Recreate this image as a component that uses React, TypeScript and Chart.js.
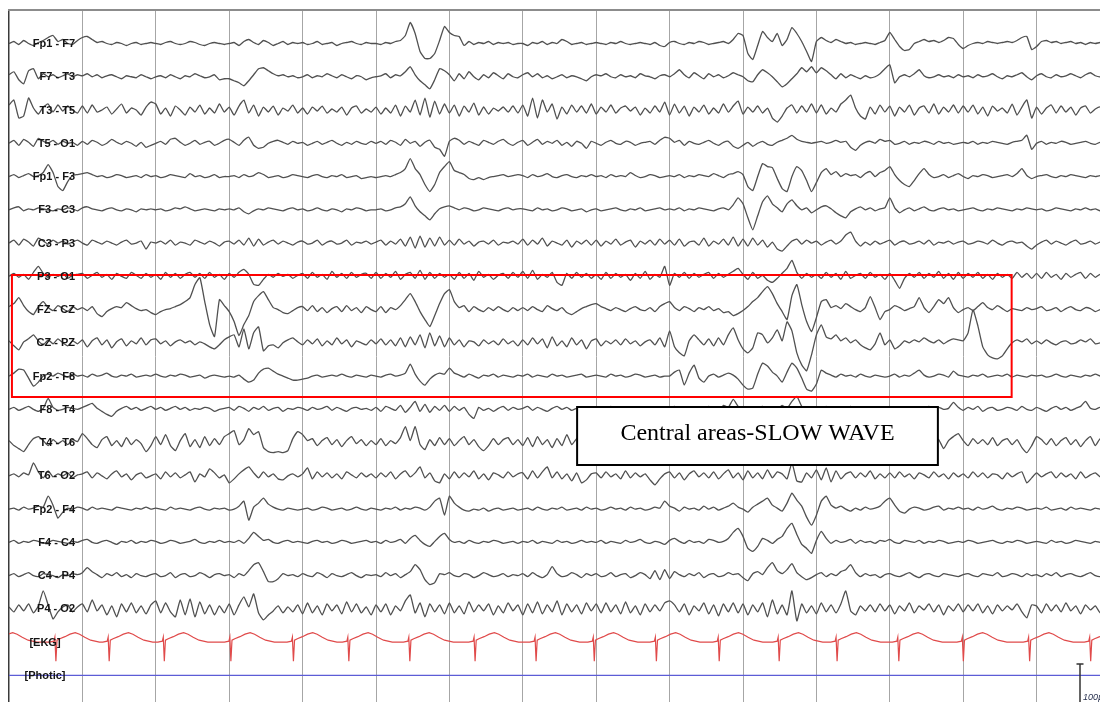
import { useEffect, useRef } from "react";
import { Chart, registerables } from "chart.js";

Chart.register(...registerables);

// ---------------- data ----------------
// EEG amplitude samples, 15 per second (1 unit ≈ 2.5 µV, positive = up)
const SAMPLE_RATE = 15;

const channelLabels = [
  "Fp1 - F7", "F7 - T3", "T3 - T5", "T5 - O1", "Fp1 - F3", "F3 - C3", "C3 - P3", "P3 - O1",
  "FZ - CZ", "CZ - PZ", "Fp2 - F8", "F8 - T4", "T4 - T6", "T6 - O2", "Fp2 - F4", "F4 - C4",
  "C4 - P4", "P4 - O2",
];

const fp1F7 = [
  0,2,-1,3,0,-2,1,3,6,8,2,4,0,-1,3,
  6,7,4,1,2,0,-1,1,0,-2,0,1,-1,0,1,
  0,-1,1,2,0,-1,0,2,1,-1,-2,0,1,0,-1,
  0,1,-2,2,4,1,-1,3,1,-2,0,2,-1,1,0,
  1,-1,0,2,-1,0,1,-2,0,1,2,0,-1,1,0,
  0,-1,1,0,2,3,8,21,10,-8,-15,-15,-10,3,17,
  11,8,7,-2,2,-1,1,0,2,-1,1,0,1,-1,0,
  0,-2,1,0,2,-1,1,0,4,2,-1,0,1,-1,0,
  1,0,-1,1,0,2,0,-1,0,1,0,-1,1,-2,-3,
  1,2,0,-1,1,0,2,1,-1,0,1,2,0,4,10,
  8,-10,-16,-2,12,6,2,10,-2,4,16,10,2,-8,-18,
  2,6,3,1,4,2,0,1,-1,0,1,0,-1,1,3,
  11,4,-3,-7,-6,0,2,4,2,3,1,3,6,5,-1,
  -5,-2,0,1,0,2,1,0,1,2,1,3,6,7,-6,
  -3,2,3,1,2,0,1,2,0,1,-1,1,0,1,0,
];
const f7T3 = [
  2,5,-3,-7,6,8,-2,3,0,2,-1,1,3,0,2,
  1,3,0,2,-1,1,2,0,-2,1,0,-1,2,0,-2,
  0,1,-1,2,0,-2,1,0,3,1,-1,0,2,-3,-2,
  -2,-4,-6,-9,-4,2,8,9,6,3,1,2,0,1,-1,
  0,2,-1,1,0,3,1,-1,2,0,-2,1,0,-3,-1,
  0,1,3,-1,2,1,5,10,2,-4,-8,-12,-3,8,6,
  2,-4,3,-2,5,0,-3,2,-1,4,1,-2,3,0,-1,
  2,4,0,3,-1,1,-2,0,2,-1,1,0,-2,-4,0,
  2,1,3,0,-1,2,0,1,-1,3,1,0,-2,1,2,
  0,3,7,2,-1,4,1,-2,3,0,2,-1,1,4,2,
  0,-4,-5,2,7,4,0,-5,-10,-7,-2,3,9,5,10,
  4,9,6,2,-2,3,-1,2,0,-2,1,-1,0,3,8,
  12,-6,0,2,0,3,7,1,-1,0,2,0,1,-1,2,
  0,1,-1,2,0,1,3,0,-2,1,0,2,4,0,-3,
  1,3,0,-1,2,0,1,3,1,-1,2,4,1,0,2,
];
const t3T5 = [
  5,10,-8,-6,12,2,-4,3,6,-2,5,-1,4,0,-3,
  4,-3,5,-2,0,3,-4,1,6,-3,2,0,-5,3,8,
  6,-4,2,-6,4,0,-5,3,-2,5,-4,2,-3,6,-2,
  3,-5,4,10,-3,5,-6,3,-2,4,-5,2,-1,5,-3,
  2,-4,3,-1,4,-3,1,-2,3,-5,2,4,-3,1,-2,
  3,-4,2,-3,5,-6,4,-2,10,-5,12,-7,9,-4,6,
  -3,5,-6,4,-2,7,-5,3,-4,2,-1,3,-2,4,-3,
  5,-6,12,-8,10,-2,6,-9,3,-4,5,-2,4,-3,6,
  -4,3,-2,5,-3,2,4,-1,3,-5,2,-3,4,-2,8,
  -5,6,-3,4,-6,3,-2,5,-4,2,-3,6,-2,4,9,
  -4,3,-2,4,-3,2,-8,-12,-6,2,5,-3,4,-2,6,
  -3,5,-4,2,-2,6,10,15,2,-6,-9,3,-4,5,-2,
  4,-6,3,-2,5,-5,2,4,-3,6,-4,3,-2,5,-3,
  4,-2,5,-4,3,-6,4,-1,2,-3,6,-5,3,10,-8,
  3,-4,2,5,-3,4,-2,3,-5,2,4,-3,1,3,-2,
];
const t5O1 = [
  0,3,-2,4,1,-3,5,2,0,3,-1,2,0,1,-2,
  2,-1,3,1,-2,0,4,1,-1,2,0,-3,1,-4,-2,
  0,2,-1,4,5,1,-2,0,3,-1,1,2,-2,0,3,
  4,1,-2,3,6,-2,-5,-4,0,2,3,1,-1,2,0,
  1,-2,0,2,-1,1,3,0,-2,1,-1,2,0,-1,2,
  0,2,-1,3,1,-2,4,0,2,-3,1,3,-4,-6,-13,
  2,5,3,-1,2,0,-2,3,1,-1,2,4,0,-2,1,
  3,-2,1,4,-1,2,0,3,-2,1,-3,2,0,-5,2,
  0,-2,1,3,0,-1,2,1,-2,0,1,2,-1,3,6,
  5,1,3,-2,2,0,-1,1,3,0,-2,1,2,-3,-5,
  -2,1,-3,0,2,-1,-2,1,3,5,8,4,2,1,0,
  1,2,0,1,3,1,2,-4,-7,-2,1,2,0,4,2,
  3,-1,0,2,-1,1,0,2,1,-1,2,0,1,-1,0,
  1,0,2,-1,1,0,2,1,0,-1,1,2,3,8,-6,
  0,2,-1,1,0,2,1,-1,0,1,2,0,-1,1,0,
];
const fp1F3 = [
  0,2,-1,1,3,0,1,4,12,4,-10,-14,-5,1,2,
  3,4,2,0,1,-1,0,2,1,-1,0,1,-1,2,0,
  1,-1,0,2,1,0,-1,3,0,1,-1,0,2,-1,0,
  0,1,-1,2,0,1,4,2,-1,0,1,-1,0,2,1,
  0,-1,1,2,0,-1,1,0,2,-1,0,1,-2,-1,0,
  -1,0,1,0,2,4,8,18,8,2,-8,-15,-8,4,10,
  15,6,4,2,-2,-3,-1,-3,-1,0,1,2,0,1,2,
  1,-1,2,0,1,3,0,-1,1,2,0,-1,1,0,2,
  0,1,-1,2,0,1,0,4,1,-1,0,2,1,-1,0,
  1,0,2,-1,1,0,2,1,0,3,1,-1,2,3,5,
  2,-10,-14,0,13,10,9,-2,-12,-15,0,10,6,-4,-15,
  -6,4,8,2,5,0,3,1,2,-1,3,5,0,4,6,
  10,2,-4,-8,-10,-4,3,8,2,-1,0,2,-1,1,3,
  0,-2,1,0,2,1,-1,0,1,2,0,3,8,1,-2,
  0,1,2,0,-1,1,0,2,1,0,-1,1,0,1,0,
];
const f3C3 = [
  0,2,3,-1,1,0,2,1,0,-1,1,0,2,1,-1,
  2,3,1,0,-1,1,2,0,-1,1,0,-2,1,0,1,
  0,1,-1,0,2,1,3,1,-1,0,1,0,-1,1,0,
  1,0,2,-2,-4,-1,1,0,2,1,0,-1,1,2,0,
  1,-1,0,2,0,-1,1,0,-2,1,0,2,1,-1,0,
  0,1,-1,0,2,3,6,13,4,-2,-6,-10,-4,1,3,
  4,2,0,2,1,-1,0,2,1,0,-1,1,2,0,1,
  1,0,-1,2,0,1,-1,0,2,1,-1,0,1,-2,0,
  1,-1,0,1,2,0,-1,1,0,2,-1,0,1,2,0,
  1,0,2,-1,1,0,2,1,0,-1,1,2,0,5,12,
  6,-8,-20,-6,8,14,6,2,-2,6,10,4,0,2,-3,
  0,3,4,1,-3,-6,-8,-2,1,3,0,2,-1,1,2,
  12,2,-3,0,2,-1,1,3,0,-1,1,2,0,1,-1,
  0,1,2,0,-1,1,0,2,1,0,-1,1,0,2,1,
  0,1,-1,0,2,1,0,-1,1,0,2,0,1,-1,0,
];
const c3P3 = [
  0,3,-2,4,1,-3,5,2,-1,3,0,2,-1,1,3,
  0,-2,3,1,-1,2,0,-2,1,3,-1,0,2,-6,1,
  0,2,-1,3,-2,1,0,-2,3,1,-1,2,0,-3,1,
  2,-1,3,-2,5,-3,4,-2,1,3,-1,2,0,-2,1,
  2,-1,0,3,-2,1,2,-1,0,3,-2,1,0,2,-1,
  1,3,-2,2,-1,4,-3,6,-5,7,-4,5,-3,6,-2,
  3,-2,4,-1,2,-3,1,2,-1,3,-2,1,0,2,-1,
  4,-2,3,-1,5,-3,2,0,-2,3,-4,2,-1,3,-2,
  3,-3,2,-1,4,-2,1,3,-4,2,-1,3,-2,4,-1,
  3,-2,4,-3,1,2,-2,5,-3,2,-1,4,-2,6,-3,
  4,-3,5,-2,3,-4,1,-6,-8,-3,2,4,-1,3,0,
  2,-2,1,3,-1,2,8,11,2,-3,1,-2,2,-1,1,
  3,-2,1,2,-1,0,2,-1,3,-2,1,0,2,-1,1,
  2,-1,0,2,1,-1,3,0,-2,1,2,0,1,-3,-6,
  -2,1,3,-1,2,0,-2,1,3,-1,0,2,-1,1,0,
];
const p3O1 = [
  0,3,-1,2,-3,4,10,3,-1,2,0,3,-2,1,2,
  3,-2,1,4,-1,2,-3,3,0,-2,4,1,-2,3,-1,
  2,-3,4,-1,3,-2,2,4,-1,3,-2,4,-1,2,-3,
  3,-1,4,7,2,-8,-9,-3,2,-1,3,0,2,-2,1,
  3,-2,4,-1,2,-3,5,-1,3,-2,4,-1,2,3,-2,
  4,-2,3,-1,5,-3,2,4,-2,6,-3,4,-2,3,-1,
  2,-3,4,-2,3,-4,5,-1,2,-3,1,3,-2,4,-1,
  5,-2,6,-3,2,-1,4,-6,-9,3,-2,4,-1,3,-2,
  2,-3,4,-2,3,-1,2,-4,3,-2,5,-3,2,-1,10,
  -9,3,-1,4,-2,3,-1,2,4,-2,3,-1,2,5,8,
  2,-3,4,-2,1,-4,-6,-2,3,8,16,4,-2,3,-1,
  2,-2,4,-1,3,-3,5,-2,1,3,-2,4,-1,2,-3,
  3,-4,-12,-2,3,-1,4,-2,3,-1,5,-2,3,-3,4,
  -2,3,-1,4,-2,2,-3,3,-1,2,-2,4,-1,3,-2,
  3,-2,4,-1,2,-3,3,-1,2,4,-2,3,-1,2,-3,
];
const fzCz = [
  3,6,12,4,-2,-5,3,8,2,-1,4,1,-2,3,0,
  2,-1,3,-4,-7,-2,1,3,2,7,4,1,-1,0,-3,
  -5,-2,0,1,3,5,8,12,25,32,8,-15,-27,10,4,
  -2,-12,-26,-15,-6,8,14,18,10,2,0,-3,-4,-1,2,
  3,-1,4,-2,2,-3,1,3,-2,4,-1,2,-3,3,0,
  -2,3,-3,2,0,4,10,16,8,-2,-10,-17,-6,6,16,
  20,8,2,4,-2,3,0,-2,2,-1,3,0,-2,2,-1,
  2,-1,3,0,-2,4,1,-1,2,-3,-5,-2,1,3,5,
  6,3,1,-1,2,0,-2,1,3,0,-1,2,-2,3,6,
  8,2,-1,3,1,-2,2,0,3,-1,1,-3,-2,-6,-4,
  -1,3,8,12,18,23,16,6,-2,-10,14,25,5,-12,-22,
  -8,8,10,2,4,1,6,3,0,-2,2,13,2,-10,-2,
  0,4,2,-1,1,3,12,2,-3,3,10,6,12,2,-3,
  0,2,-1,3,7,2,0,4,1,-2,1,0,-1,2,0,
  1,3,-1,0,2,-2,1,3,0,-1,2,1,-2,0,1,
];
const czPz = [
  2,-3,-7,1,4,8,2,-2,3,-1,4,0,-3,2,-1,
  3,-4,2,5,-2,3,-5,1,4,-3,2,-1,5,-2,3,
  4,-1,2,-3,1,3,0,2,-2,1,-1,-4,-6,-2,3,
  6,8,-4,14,-6,10,16,-8,-3,-2,-5,0,3,5,1,
  -2,3,-1,4,-3,2,-2,5,-1,3,-4,2,0,-2,3,
  -1,4,-2,3,-3,5,-4,6,-2,8,-5,10,-3,7,-4,
  5,-2,3,-4,2,1,-3,3,-1,2,-2,4,-1,2,-3,
  3,-2,5,-1,4,-5,6,-3,2,-4,5,-2,3,-6,2,
  4,-3,2,-1,3,-2,4,-1,2,-3,1,3,-2,5,-4,
  12,-4,-10,-13,2,8,3,-2,4,-3,5,-2,8,15,3,
  -6,-10,-5,10,8,0,5,13,2,21,12,-10,-22,-28,-12,
  8,18,6,4,8,2,5,0,3,-2,-5,-7,-1,10,-2,
  3,-6,-3,2,0,3,1,5,2,0,3,-1,2,4,3,
  2,10,33,17,-4,-12,-15,-16,-13,-6,0,3,1,4,-1,
  2,-1,3,0,-2,1,2,-1,0,3,1,4,-1,0,2,
];
const fp2F8 = [
  0,3,7,6,-2,-10,-6,0,2,0,3,1,-1,2,0,
  1,-1,2,0,1,3,0,-1,1,0,2,-1,0,1,0,
  2,0,-1,1,0,2,1,-1,0,1,-2,0,1,0,-1,
  0,-1,1,-3,-6,-4,3,7,8,5,2,0,-2,-4,-4,
  -3,-2,0,1,-1,0,1,0,2,0,-1,1,0,-1,1,
  0,-1,1,2,0,1,3,12,2,-5,-9,-3,1,3,2,
  8,3,1,-1,2,0,-2,1,0,2,-1,1,0,-1,1,
  0,2,-1,1,0,-1,2,0,1,-1,0,1,2,-1,0,
  1,0,-1,2,0,1,-1,0,2,1,-1,0,1,-1,0,
  0,4,6,-9,3,11,-2,-6,0,2,-1,1,3,1,-3,
  -9,-13,-12,2,13,10,4,0,-6,4,13,8,-2,-13,-15,
  -8,6,3,1,-1,2,0,1,-1,2,0,-1,1,0,-1,
  0,2,-1,1,0,3,6,1,-1,0,2,1,-1,5,1,
  0,-1,1,0,2,-1,0,1,0,2,-1,1,0,-1,1,
  0,1,-1,0,2,0,-1,1,0,-1,1,0,2,0,-1,
];
const f8T4 = [
  0,2,-1,1,3,0,-2,1,11,2,-1,0,2,1,0,
  2,4,6,1,-2,-5,-7,-2,1,3,0,2,-1,1,3,
  0,2,-1,1,3,0,2,-1,1,0,2,1,-2,0,1,
  2,-1,3,1,-2,2,0,3,-1,1,2,-2,1,0,2,
  1,-1,2,0,1,3,-1,2,0,-2,1,2,0,1,-1,
  2,-2,3,1,-1,4,-3,2,8,-2,5,-3,3,-1,4,
  -2,3,-1,2,-5,-9,2,-1,1,-2,1,3,-1,2,0,
  1,3,-1,2,0,-2,1,3,0,2,-1,1,-2,2,0,
  2,-1,1,3,0,2,-1,1,0,-2,2,1,-1,0,2,
  1,3,-1,2,0,1,2,-1,3,1,-2,4,2,10,3,
  -2,2,-3,1,3,-1,2,0,4,1,8,13,3,-2,1,
  2,-1,3,0,2,-2,1,3,-1,2,0,1,-1,2,0,
  3,-1,2,1,-2,2,0,1,3,-1,2,0,1,7,2,
  -1,2,0,3,-2,1,2,-1,0,2,1,-1,3,0,-1,
  2,0,-2,1,3,0,2,-1,1,3,8,1,0,2,-1,
];
const t4T6 = [
  2,-3,-6,-9,-2,4,6,2,-3,3,-1,2,-2,3,1,
  9,4,-2,-5,3,6,-3,2,-4,5,-2,3,-1,-9,-3,
  6,-2,8,-3,-8,2,9,-4,3,-5,6,-3,4,-2,6,
  9,12,-2,3,14,8,11,-5,-9,-10,-9,-10,-8,4,11,
  8,2,4,-3,2,5,-2,3,-4,2,6,-1,3,-3,2,
  -2,4,-3,2,-1,5,16,2,16,-2,-7,3,-3,5,-2,
  4,-3,2,6,-2,3,-4,-8,-3,4,-2,3,5,-2,3,
  -3,5,-4,6,-2,3,-5,4,-3,8,-2,4,8,-6,2,
  3,-4,5,-2,4,-3,2,-5,6,-2,3,-4,5,-1,3,
  -3,4,-2,6,-4,3,-5,2,4,-3,5,-2,3,-4,2,
  4,-3,6,-5,3,-2,8,-4,2,-6,5,-2,4,-3,2,
  -2,5,-3,4,-6,3,-2,5,-4,2,6,-3,4,-2,3,
  -3,4,-2,5,-3,2,-4,3,-2,4,3,-6,2,6,9,
  2,-3,4,-1,3,-2,5,-3,2,4,-2,3,-5,-10,-3,
  6,3,-2,4,-3,2,5,-2,3,-4,2,6,-3,4,-2,
];
const t6O2 = [
  0,2,-1,3,1,13,4,-2,5,-1,2,0,3,-2,1,
  2,4,-2,3,0,-3,2,5,-1,2,-4,1,3,-2,0,
  2,-3,4,-1,3,-2,1,4,-6,2,-1,7,3,-2,1,
  -7,-3,2,6,9,3,-2,4,-1,2,-3,-4,0,2,-1,
  2,8,-3,4,-1,3,-2,2,-3,4,1,-2,3,-1,2,
  -2,3,-1,4,-3,2,5,-1,3,9,-2,3,-5,-7,2,
  -3,4,-2,3,-1,5,-3,2,-4,3,1,-2,4,-1,2,
  3,-3,5,-2,4,9,-2,4,-3,2,-5,3,-7,-4,2,
  3,-2,4,-1,2,-3,5,-2,3,-1,2,-4,-9,-3,2,
  4,-2,3,-4,2,5,-1,3,-2,4,-3,2,6,-2,3,
  -4,5,-2,3,-3,6,-2,4,2,-3,13,-5,-6,3,-2,
  6,-4,8,-6,5,-3,2,4,-2,3,-1,5,-3,2,-2,
  3,-2,4,-1,2,-3,3,1,-2,4,-1,2,-3,3,-1,
  2,-2,4,-1,3,-2,2,1,-3,3,-1,2,4,-7,-2,
  3,-1,2,4,-2,3,-1,2,-3,4,-2,1,3,-1,2,
];
const fp2F4 = [
  0,1,-1,2,0,1,3,2,13,4,-9,-3,1,0,2,
  1,-1,2,0,1,0,-1,2,1,0,-1,1,0,2,0,
  1,0,-1,2,0,1,0,-1,1,2,0,-1,1,0,1,
  -1,0,3,8,-11,2,6,11,5,2,0,-1,1,0,-1,
  0,1,-1,0,2,1,-1,0,1,-1,0,2,0,-1,1,
  0,-1,1,0,2,-1,1,0,2,1,-1,2,8,11,-6,
  13,6,2,-1,-2,0,-1,1,-2,0,1,-1,0,1,-1,
  0,1,-1,2,0,-1,1,0,2,-1,0,1,-1,2,0,
  1,-1,0,2,0,1,-1,2,0,1,-1,0,2,1,8,
  3,1,-2,2,0,1,-1,3,0,2,-1,1,3,6,2,
  0,-3,2,5,8,11,4,1,-2,6,16,9,3,-8,-16,
  -6,8,13,4,1,3,0,-2,1,-1,2,0,1,3,8,
  11,4,-2,-4,0,2,1,-1,0,2,3,-1,1,0,2,
  0,1,-1,2,0,1,3,0,-1,1,0,2,1,-1,0,
  1,0,2,-1,0,1,-1,2,0,1,0,-1,1,0,2,
];
const f4C4 = [
  0,2,-1,1,0,2,1,-1,0,2,1,0,-1,1,0,
  2,3,0,-1,1,2,0,-2,1,0,2,-1,1,0,2,
  1,-1,0,2,1,-1,0,1,3,0,-1,1,0,2,0,
  1,0,2,-1,4,10,6,2,3,0,-1,1,2,0,1,
  0,-1,1,2,0,1,-1,0,2,1,-1,0,1,2,0,
  1,-1,2,0,1,3,-1,4,7,2,-2,-4,1,6,9,
  3,0,1,-1,2,0,-1,1,0,2,1,-1,0,1,-1,
  1,0,2,-1,1,0,-1,2,0,1,-1,0,2,0,1,
  0,2,-1,1,0,-1,2,0,1,3,0,-1,1,0,-2,
  2,4,1,-1,2,0,1,-1,3,2,0,1,4,10,14,
  6,-6,-9,-4,4,2,-1,3,6,14,19,8,-2,-6,-11,
  2,11,4,-1,2,0,1,3,-1,2,0,1,-1,2,1,
  3,0,-1,2,1,0,2,-1,1,0,2,1,-1,0,1,
  0,2,1,-1,0,1,2,0,-1,1,0,2,1,-1,0,
  1,0,-1,2,0,1,-1,0,2,1,0,-1,1,0,1,
];
const c4P4 = [
  0,2,-1,1,3,0,-1,2,1,0,-2,1,0,2,1,
  3,8,4,1,-2,2,0,3,-1,1,-2,2,0,-1,1,
  2,-1,0,3,-2,1,2,-1,0,3,1,-2,1,2,0,
  1,-2,2,0,5,11,13,4,-6,-6,-3,2,0,1,-1,
  2,0,-1,3,1,-2,2,0,-1,1,3,0,-2,1,0,
  1,-1,3,0,2,-2,1,4,11,6,-4,-9,-7,2,1,
  3,0,-1,2,1,-2,0,3,1,-1,0,2,-1,1,0,
  2,-1,3,0,-2,1,9,2,-1,0,3,1,-2,2,0,
  2,-1,0,3,-1,1,2,-2,0,3,1,-3,5,-4,6,
  -3,4,1,-1,2,0,3,-2,1,2,-1,0,3,1,2,
  -2,-5,2,4,1,8,13,5,2,6,12,3,-1,-4,-2,
  1,3,-1,2,0,4,6,11,3,-1,2,0,1,-2,1,
  2,0,-1,1,3,0,-2,1,2,0,-1,2,1,0,-1,
  1,2,0,-1,2,1,0,3,-1,0,2,1,-1,2,0,
  1,-1,2,0,3,-1,1,2,0,-1,1,3,0,-1,1,
];
const p4O2 = [
  2,-3,4,-2,5,-4,3,18,4,-10,-3,2,4,-3,2,
  5,-3,9,-2,4,-6,3,-8,5,-3,6,-4,3,-5,4,
  8,-4,6,-3,-8,9,-6,10,-8,7,-5,4,-6,3,-4,
  5,-6,4,12,2,15,-4,-11,-6,-2,3,-4,2,-3,4,
  -5,6,-4,3,-6,5,-2,4,-5,7,-3,5,-4,2,-6,
  4,-3,5,-6,3,-2,8,14,-4,6,-8,5,-3,4,-5,
  6,-4,3,-5,7,-3,4,-2,5,-6,3,-4,6,-2,4,
  -6,5,-4,7,-5,4,-3,8,-6,5,-3,4,-5,6,-2,
  5,-4,6,-3,4,-5,7,-4,3,-6,5,-3,4,-2,6,
  8,4,-3,5,-6,3,-2,6,-5,4,-7,5,-3,6,-4,
  5,-6,4,-3,6,-8,9,-5,4,-6,18,-12,5,-4,3,
  -5,6,-3,4,-4,5,18,-2,-6,3,-2,4,-3,5,-2,
  4,-5,3,-2,6,-4,3,-1,5,-3,4,-6,3,-2,5,
  -3,4,-2,5,-4,3,-5,4,-2,3,-1,5,-3,-9,4,
  3,-4,5,-2,4,-3,6,-2,3,-5,4,-1,3,-4,2,
];

const eegSeries = [
  fp1F7, f7T3, t3T5, t5O1, fp1F3, f3C3, c3P3, p3O1, fzCz, czPz,
  fp2F8, f8T4, t4T6, t6O2, fp2F4, f4C4, c4P4, p4O2,
];

// EKG: time of each QRS complex (s), and one beat's shape (offset s, amplitude)
const ekgBeatTimes = [
  -0.22, 0.632, 1.358, 2.109, 3.016, 3.868, 4.623, 5.454, 6.343, 7.174, 7.967,
  8.813, 9.669, 10.486, 11.275, 12.116, 12.995, 13.898, 14.73,
];
const ekgShapeOffsets = [-0.08, -0.02, -0.007, 0.007, 0.022, 0.06, 0.13, 0.2, 0.27, 0.33, 0.4, 0.48, 0.6];
const ekgShapeValues = [0, 1, 5, -19, 2, 3.5, 5.5, 8, 9.5, 8, 5, 2, 0];

const photicTimes = [0, 15];
const photicValues = [0, 0];

const auxLabels = ["[EKG]", "[Photic]"];
const annotationText = "Central areas-SLOW WAVE";
const scaleBarText = "100µV";

// ---------------- layout ----------------
const W = 1100;
const H = 702;
const PLOT_LEFT = 9;
const PLOT_TOP = 10;
const PX_PER_SECOND = 73.4;
const ROW0 = 43.5;
const ROW_STEP = 33.26;
const X_MAX = (W - PLOT_LEFT) / PX_PER_SECOND;
const rowY = (i: number) => ROW0 + ROW_STEP * i;

const overlayPlugin = {
  id: "eegOverlay",
  afterDatasetsDraw(chart: any) {
    const { ctx } = chart;
    const xs = chart.scales.x;
    const ys = chart.scales.y;
    ctx.save();

    // red highlight box
    const rx1 = xs.getPixelForValue(0.04);
    const rx2 = xs.getPixelForValue(13.66);
    const ry1 = ys.getPixelForValue(275);
    const ry2 = ys.getPixelForValue(397);
    ctx.strokeStyle = "#ff0000";
    ctx.lineWidth = 2;
    ctx.strokeRect(rx1, ry1, rx2 - rx1, ry2 - ry1);

    // annotation box
    const ax1 = xs.getPixelForValue(7.74);
    const ax2 = xs.getPixelForValue(12.655);
    const ay1 = ys.getPixelForValue(407);
    const ay2 = ys.getPixelForValue(465);
    ctx.fillStyle = "#ffffff";
    ctx.fillRect(ax1, ay1, ax2 - ax1, ay2 - ay1);
    ctx.strokeStyle = "#000000";
    ctx.lineWidth = 2;
    ctx.strokeRect(ax1, ay1, ax2 - ax1, ay2 - ay1);
    ctx.fillStyle = "#000000";
    ctx.font = '24px "Liberation Serif", "Times New Roman", serif';
    ctx.textAlign = "center";
    ctx.textBaseline = "alphabetic";
    ctx.fillText(annotationText, (ax1 + ax2) / 2, 440);

    // channel labels
    ctx.fillStyle = "#151515";
    ctx.font = 'bold 11px "Liberation Sans", Arial, sans-serif';
    ctx.textBaseline = "middle";
    ctx.textAlign = "right";
    channelLabels.forEach((label, i) => {
      ctx.fillText(label, 75, ys.getPixelForValue(rowY(i)) + 0.5);
    });
    ctx.textAlign = "center";
    auxLabels.forEach((label, k) => {
      ctx.fillText(label, 45, ys.getPixelForValue(rowY(eegSeries.length + k)) + 0.5);
    });

    // scale bar
    ctx.strokeStyle = "#333333";
    ctx.lineWidth = 1.5;
    ctx.beginPath();
    ctx.moveTo(1080, 664);
    ctx.lineTo(1080, 702);
    ctx.moveTo(1076.5, 664);
    ctx.lineTo(1083.5, 664);
    ctx.stroke();
    ctx.fillStyle = "#2a3350";
    ctx.font = 'italic 9px "Liberation Sans", Arial, sans-serif';
    ctx.textAlign = "left";
    ctx.textBaseline = "alphabetic";
    ctx.fillText(scaleBarText, 1083, 700);

    ctx.restore();
  },
};

export default function App() {
  const canvasRef = useRef<HTMLCanvasElement | null>(null);

  useEffect(() => {
    if (!canvasRef.current) return;

    const eegDatasets = eegSeries.map((values, c) => ({
      label: channelLabels[c],
      data: values.map((v, i) => ({ x: i / SAMPLE_RATE, y: rowY(c) - v })),
      borderColor: "#505050",
      borderWidth: 1.3,
      tension: 0.15,
      pointRadius: 0,
      fill: false,
    }));

    const ekgRow = rowY(eegSeries.length);
    const ekgPoints: { x: number; y: number }[] = [];
    ekgBeatTimes.forEach((t) => {
      ekgShapeOffsets.forEach((o, k) => {
        ekgPoints.push({ x: t + o, y: ekgRow - ekgShapeValues[k] });
      });
    });

    const photicRow = rowY(eegSeries.length + 1);

    const chart = new Chart(canvasRef.current, {
      type: "line",
      data: {
        datasets: [
          ...eegDatasets,
          {
            label: "EKG",
            data: ekgPoints,
            borderColor: "#e04a4a",
            borderWidth: 1.2,
            tension: 0,
            pointRadius: 0,
            fill: false,
          },
          {
            label: "Photic",
            data: photicTimes.map((t, i) => ({ x: t, y: photicRow - photicValues[i] })),
            borderColor: "#5c5cd6",
            borderWidth: 1.2,
            tension: 0,
            pointRadius: 0,
            fill: false,
          },
        ] as any,
      },
      options: {
        animation: false,
        responsive: false,
        devicePixelRatio: 1,
        events: [],
        layout: { padding: { left: PLOT_LEFT, top: PLOT_TOP, right: 0, bottom: 0 } },
        plugins: { legend: { display: false }, tooltip: { enabled: false } },
        scales: {
          x: {
            type: "linear",
            position: "top",
            min: 0,
            max: X_MAX,
            ticks: { display: false, stepSize: 1, includeBounds: false },
            grid: {
              drawTicks: false,
              color: (c: any) => (c.tick && c.tick.value === 0 ? "#3a3a3a" : "#a6a6a6"),
              lineWidth: (c: any) => (c.tick && c.tick.value === 0 ? 1.5 : 1),
            },
            border: { display: true, color: "#8c8c8c", width: 2 },
          },
          y: {
            type: "linear",
            display: false,
            min: PLOT_TOP,
            max: H,
            reverse: true,
          },
        },
      } as any,
      plugins: [overlayPlugin],
    });

    return () => chart.destroy();
  }, []);

  return (
    <div style={{ position: "absolute", left: 0, top: 0, width: W, height: H, background: "#ffffff" }}>
      <canvas ref={canvasRef} width={W} height={H} style={{ display: "block" }} />
    </div>
  );
}
